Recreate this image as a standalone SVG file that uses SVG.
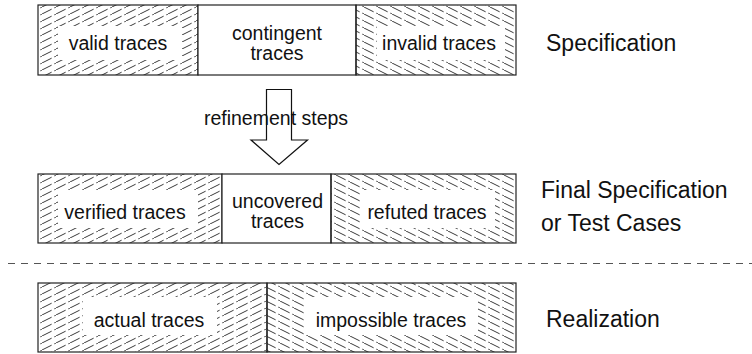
<svg xmlns="http://www.w3.org/2000/svg" width="752" height="354" viewBox="0 0 752 354">
<defs>
<pattern id="hf" patternUnits="userSpaceOnUse" width="14" height="7">
<line x1="-2" y1="8" x2="16" y2="-1" stroke="#222" stroke-width="0.9" stroke-dasharray="13 3"/>
</pattern>
<pattern id="hb" patternUnits="userSpaceOnUse" width="14" height="7">
<line x1="-2" y1="-1" x2="16" y2="8" stroke="#222" stroke-width="0.9" stroke-dasharray="13 3"/>
</pattern>
</defs>
<style>
.cell{stroke:#222;stroke-width:1.2}
.f{fill:url(#hf)}
.b{fill:url(#hb)}
.w{fill:#fff}
.pad{fill:#fff;stroke:none}
text{font-family:"Liberation Sans",Arial,sans-serif;fill:#111}
.t{font-size:19.5px;text-anchor:middle}
.s{font-size:23px}
</style>
<rect width="752" height="354" fill="#fff"/>

<g id="valid">
<rect class="cell f" x="38" y="5" width="160" height="70"/>
<rect class="pad" x="58" y="26" width="124" height="34"/>
<text class="t" x="118" y="50">valid traces</text>
</g>
<g id="contingent">
<rect class="cell w" x="198" y="5" width="158" height="70"/>
<text class="t" x="277" y="40">contingent</text>
<text class="t" x="277" y="60">traces</text>
</g>
<g id="invalid">
<rect class="cell b" x="356" y="5" width="160" height="70"/>
<rect class="pad" x="377" y="26" width="128" height="34"/>
<text class="t" x="439" y="50">invalid traces</text>
</g>
<g id="spec-label">
<text class="s" x="546" y="51">Specification</text>
</g>

<g id="connectors">
<polygon points="266.5,89.5 291.5,89.5 291.5,140 307.5,140 279,164.5 251,140 266.5,140" fill="none" stroke="#111" stroke-width="1.2" stroke-linejoin="miter"/>
<text class="t" x="276" y="125">refinement steps</text>
<line x1="8" y1="263.5" x2="752" y2="263.5" stroke="#555" stroke-width="1.2" stroke-dasharray="7 6"/>
</g>

<g id="verified">
<rect class="cell f" x="38" y="174" width="184" height="69"/>
<rect class="pad" x="58" y="190" width="140" height="38"/>
<text class="t" x="125" y="219">verified traces</text>
</g>
<g id="uncovered">
<rect class="cell w" x="222" y="174" width="109" height="69"/>
<text class="t" x="277.5" y="208">uncovered</text>
<text class="t" x="277.5" y="228">traces</text>
</g>
<g id="refuted">
<rect class="cell b" x="331" y="174" width="185" height="69"/>
<rect class="pad" x="362" y="190" width="133" height="38"/>
<text class="t" x="427" y="219">refuted traces</text>
</g>
<g id="final-label">
<text class="s" x="541" y="198">Final Specification</text>
<text class="s" x="541" y="231">or Test Cases</text>
</g>

<g id="actual">
<rect class="cell f" x="38" y="283" width="229" height="69"/>
<rect class="pad" x="83" y="297" width="134" height="38"/>
<text class="t" x="149" y="327">actual traces</text>
</g>
<g id="impossible">
<rect class="cell b" x="267" y="283" width="249" height="69"/>
<rect class="pad" x="304" y="297" width="174" height="38"/>
<text class="t" x="391" y="327">impossible traces</text>
</g>
<g id="real-label">
<text class="s" x="546" y="327">Realization</text>
</g>
</svg>
